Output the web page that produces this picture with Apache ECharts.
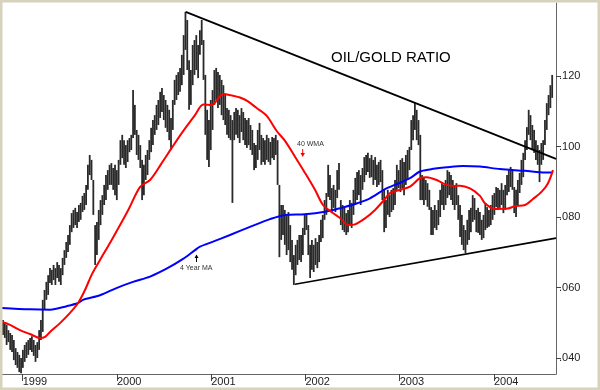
<!DOCTYPE html>
<html>
<head>
<meta charset="utf-8">
<script src="https://cdn.jsdelivr.net/npm/echarts@6/dist/echarts.min.js"></script>
<style>
html,body{margin:0;padding:0;background:#fff;}
#main{width:600px;height:390px;}
</style>
</head>
<body>
<div id="main"></div>
<script>
// ---- DATA ----
// first weekly bar (decimal year) ; one bar per week
var firstWeek = 1998.791;
var weekStep = 7 / 365.25;

var yearTicks = [1999, 2000, 2001, 2002, 2003, 2004];
var ratioTicks = [0.04, 0.06, 0.08, 0.10, 0.12];

var weeklyHigh = [
.0508,.0502,.0494,.0479,.0471,.0465,.0451,.0428,.0417,.0409,
.0400,.0423,.0437,.0445,.0451,.0457,.0462,.0451,.0437,.0445,
.0479,.0508,.0565,.0593,.0616,.0635,.0655,.0650,.0664,.0655,
.0672,.0664,.0655,.0684,.0706,.0729,.0749,.0777,.0811,.0820,
.0826,.0814,.0834,.0840,.0860,.0868,.0891,.0948,.0976,.0962,
.0905,.0777,.0786,.0820,.0848,.0862,.0891,.0919,.0933,.0948,
.0953,.0939,.0948,.0933,.0962,.1018,.1033,.1018,.1004,.1018,
.1024,.1033,.1160,.1118,.1047,.1033,.1004,.0962,.0948,.0976,
.0990,.1018,.1053,.1075,.1089,.1118,.1132,.1155,.1166,.1146,
.1132,.1118,.1104,.1081,.1132,.1189,.1203,.1211,.1223,.1260,
.1316,.1382,.1359,.1245,.1217,.1288,.1302,.1316,.1288,.1330,
.1359,.1302,.1203,.1104,.1075,.1132,.1160,.1217,.1223,.1211,
.1203,.1189,.1174,.1146,.1109,.1104,.1089,.1075,.1098,.1109,
.1104,.1089,.1109,.1098,.1081,.1075,.1081,.1061,.1047,.1010,
.1004,.1047,.1067,.1033,.1024,.1018,.1033,.1024,.1013,.1027,
.1024,.1033,.1018,.0891,.0834,.0834,.0820,.0806,.0814,.0777,
.0735,.0692,.0721,.0735,.0749,.0749,.0769,.0806,.0811,.0777,
.0721,.0735,.0721,.0740,.0729,.0749,.0792,.0806,.0848,.0868,
.0948,.0919,.0882,.0891,.0877,.0933,.0953,.0848,.0834,.0826,
.0811,.0820,.0848,.0840,.0877,.0911,.0928,.0933,.0919,.0939,
.0970,.0976,.0982,.0967,.0976,.0962,.0970,.0948,.0956,.0962,
.0933,.0877,.0848,.0877,.0862,.0877,.0882,.0905,.0948,.0933,
.0962,.0967,.0956,.0976,.0990,.0999,.1075,.1089,.1123,.1104,
.1075,.1033,.0919,.0911,.0905,.0896,.0877,.0828,.0820,.0834,
.0820,.0848,.0877,.0896,.0891,.0905,.0933,.0928,.0919,.0905,
.0891,.0896,.0862,.0834,.0806,.0777,.0763,.0792,.0820,.0826,
.0862,.0854,.0820,.0826,.0814,.0792,.0806,.0840,.0828,.0820,
.0834,.0862,.0868,.0885,.0882,.0877,.0896,.0877,.0891,.0919,
.0933,.0942,.0933,.0885,.0877,.0905,.0925,.0962,.0982,.1018,
.1055,.1104,.1089,.1061,.1047,.1018,.1004,.0990,.1010,.1018,
.1075,.1123,.1146,.1174,.1203
];

var weeklyLow = [
.0465,.0457,.0437,.0445,.0423,.0417,.0394,.0380,.0372,.0360,
.0357,.0372,.0389,.0400,.0409,.0423,.0417,.0406,.0389,.0400,
.0423,.0451,.0474,.0536,.0565,.0579,.0613,.0607,.0621,.0607,
.0627,.0616,.0607,.0635,.0664,.0684,.0701,.0721,.0757,.0769,
.0777,.0769,.0786,.0792,.0814,.0820,.0834,.0877,.0919,.0905,
.0806,.0664,.0692,.0735,.0777,.0806,.0834,.0848,.0877,.0891,
.0891,.0877,.0862,.0848,.0891,.0948,.0967,.0948,.0939,.0956,
.0984,.0990,.1024,.1033,.0976,.0962,.0939,.0848,.0862,.0905,
.0919,.0962,.0984,.1004,.1033,.1047,.1061,.1081,.1098,.1075,
.1053,.1041,.1018,.0990,.1047,.1118,.1132,.1146,.1155,.1174,
.1203,.1274,.1217,.1104,.1118,.1174,.1203,.1217,.1194,.1260,
.1288,.1189,.1033,.0962,.0942,.0990,.1047,.1118,.1132,.1109,
.1118,.1089,.1075,.1061,.1033,.1024,.1018,.0840,.1018,.1033,
.1024,.1010,.1041,.1018,.1004,.0996,.1004,.0990,.0976,.0933,
.0939,.0962,.0990,.0948,.0956,.0948,.0962,.0956,.0948,.0967,
.0962,.0976,.0891,.0686,.0735,.0749,.0721,.0692,.0706,.0672,
.0650,.0607,.0635,.0664,.0678,.0672,.0692,.0749,.0763,.0692,
.0627,.0650,.0644,.0664,.0655,.0672,.0729,.0740,.0792,.0806,
.0857,.0848,.0811,.0826,.0814,.0854,.0877,.0777,.0763,.0757,
.0749,.0757,.0777,.0769,.0806,.0834,.0848,.0862,.0834,.0877,
.0899,.0919,.0928,.0911,.0913,.0891,.0905,.0885,.0891,.0899,
.0848,.0757,.0769,.0806,.0800,.0814,.0820,.0834,.0877,.0882,
.0871,.0882,.0862,.0891,.0905,.0933,.0990,.1018,.1047,.1018,
.1004,.0848,.0848,.0834,.0848,.0829,.0820,.0749,.0749,.0769,
.0763,.0777,.0800,.0834,.0820,.0834,.0854,.0862,.0848,.0834,
.0820,.0834,.0792,.0743,.0721,.0706,.0698,.0721,.0735,.0757,
.0786,.0792,.0757,.0755,.0749,.0735,.0740,.0763,.0769,.0772,
.0777,.0792,.0806,.0828,.0820,.0826,.0834,.0811,.0820,.0862,
.0871,.0885,.0877,.0811,.0800,.0834,.0868,.0891,.0913,.0962,
.0990,.1033,.1018,.0990,.0982,.0962,.0948,.0899,.0948,.0962,
.1004,.1047,.1089,.1109,.1138
];

// 40-week moving average [decimal year, ratio]
var ma40 = [
[1998.780,.0502],[1998.865,.0494],[1998.971,.0479],[1999.077,.0468],[1999.184,.0457],
[1999.237,.0460],[1999.290,.0474],[1999.396,.0499],[1999.502,.0528],[1999.587,.0556],
[1999.661,.0593],[1999.735,.0638],[1999.820,.0678],[1999.944,.0735],[2000.120,.0820],
[2000.244,.0885],[2000.351,.0905],[2000.475,.0953],[2000.581,.0996],[2000.687,.1038],
[2000.828,.1089],[2000.916,.1119],[2001.005,.1118],[2001.128,.1149],[2001.217,.1145],
[2001.305,.1139],[2001.390,.1128],[2001.482,.1109],[2001.589,.1087],[2001.695,.1044],
[2001.783,.1016],[2001.889,.0971],[2001.995,.0925],[2002.101,.0877],[2002.186,.0834],
[2002.278,.0814],[2002.366,.0797],[2002.454,.0777],[2002.525,.0779],[2002.631,.0796],
[2002.738,.0820],[2002.843,.0851],[2002.896,.0868],[2003.002,.0877],[2003.108,.0886],
[2003.214,.0910],[2003.286,.0913],[2003.392,.0905],[2003.498,.0891],[2003.586,.0888],
[2003.639,.0889],[2003.745,.0881],[2003.851,.0860],[2003.904,.0839],[2004.010,.0823],
[2004.148,.0824],[2004.222,.0831],[2004.329,.0834],[2004.413,.0851],[2004.506,.0872],
[2004.573,.0896],[2004.626,.0933]
];

// 4-year moving average [decimal year, ratio]
var ma4y = [
[1998.780,.0542],[1999.077,.0538],[1999.290,.0537],[1999.467,.0547],[1999.587,.0556],
[1999.640,.0565],[1999.820,.0578],[2000.000,.0599],[2000.170,.0616],[2000.351,.0631],
[2000.531,.0654],[2000.701,.0681],[2000.828,.0706],[2000.881,.0716],[2001.019,.0730],
[2001.199,.0749],[2001.411,.0772],[2001.623,.0794],[2001.783,.0806],[2001.995,.0808],
[2002.207,.0815],[2002.366,.0825],[2002.525,.0837],[2002.684,.0853],[2002.843,.0879],
[2002.949,.0891],[2003.108,.0910],[2003.214,.0929],[2003.320,.0935],[2003.498,.0941],
[2003.671,.0945],[2003.851,.0943],[2004.063,.0936],[2004.329,.0931],[2004.541,.0926],
[2004.626,.0926]
];

// trend lines
var upperTrend = [[2000.729, 0.1382], [2004.658, 0.0965]];
var lowerTrend = [[2001.889, 0.0609], [2004.658, 0.0740]];

// ---- CHART ----
var bars = weeklyHigh.map(function (h, i) {
  return [firstWeek + i * weekStep, weeklyLow[i], h];
});

var chart = echarts.init(document.getElementById('main'), null, {renderer: 'canvas'});
var FONT = '"Liberation Sans", Arial, sans-serif';

chart.setOption({
  animation: false,
  backgroundColor: '#ffffff',
  grid: {left: 2, top: 3, right: 44, bottom: 16, containLabel: false},
  xAxis: {
    type: 'value', min: 1998.7804, max: 2004.6577,
    splitLine: {show: false},
    axisLine: {show: true, onZero: false, lineStyle: {color: '#666', width: 1}},
    axisTick: {show: true, customValues: yearTicks, length: 7, lineStyle: {color: '#444'}},
    axisLabel: {show: true, customValues: yearTicks, align: 'left', margin: 2,
      color: '#222', fontSize: 11, fontFamily: FONT,
      formatter: function (v) { return String(Math.round(v)); }}
  },
  yAxis: {
    type: 'value', position: 'right', min: 0.03546, max: 0.14071,
    splitLine: {show: false},
    axisLine: {show: true, onZero: false, lineStyle: {color: '#666', width: 1}},
    axisTick: {show: true, customValues: ratioTicks, length: 5, lineStyle: {color: '#444'}},
    axisLabel: {show: true, customValues: ratioTicks, margin: 3,
      color: '#222', fontSize: 11, fontFamily: FONT,
      formatter: function (v) { return '.' + String(Math.round(v * 1000)).padStart(3, '0'); }}
  },
  series: [
    {
      type: 'custom',
      data: bars,
      encode: {x: 0, y: [1, 2]},
      z: 2,
      renderItem: function (params, api) {
        var hi = api.coord([api.value(0), api.value(2)]);
        var lo = api.coord([api.value(0), api.value(1)]);
        return {
          type: 'line',
          shape: {x1: hi[0], y1: hi[1], x2: lo[0], y2: lo[1]},
          style: {stroke: '#2a2a2a', lineWidth: 1.8}
        };
      }
    },
    {type: 'line', data: ma4y, symbol: 'none', smooth: 0.3, z: 3,
      lineStyle: {color: '#0000ff', width: 2}},
    {type: 'line', data: ma40, symbol: 'none', smooth: 0.3, z: 4,
      lineStyle: {color: '#ff0000', width: 2}},
    {type: 'line', data: upperTrend, symbol: 'none', z: 5,
      lineStyle: {color: '#000', width: 1.8}},
    {type: 'line', data: lowerTrend, symbol: 'none', z: 5,
      lineStyle: {color: '#000', width: 1.6}}
  ],
  graphic: [
    {type: 'rect', silent: true, z: 100,
      shape: {x: 0, y: 0, width: 600, height: 390},
      style: {fill: null, stroke: '#d6d2bb', lineWidth: 5}},
    {type: 'text', left: 331, top: 50, z: 50,
      style: {text: 'OIL/GOLD RATIO', font: '15px ' + FONT, fill: '#000'}},
    {type: 'text', left: 297, top: 141, z: 50,
      style: {text: '40 WMA', font: '7px ' + FONT, fill: '#333'}},
    {type: 'line', z: 50, shape: {x1: 302.7, y1: 149, x2: 302.7, y2: 154},
      style: {stroke: '#ff0000', lineWidth: 1}},
    {type: 'polygon', z: 50, shape: {points: [[300.5, 153], [305, 153], [302.7, 157]]},
      style: {fill: '#ff0000'}},
    {type: 'text', left: 180, top: 265, z: 50,
      style: {text: '4 Year MA', font: '7px ' + FONT, fill: '#333'}},
    {type: 'line', z: 50, shape: {x1: 196.5, y1: 257, x2: 196.5, y2: 262},
      style: {stroke: '#000', lineWidth: 1}},
    {type: 'polygon', z: 50, shape: {points: [[194.5, 258], [198.5, 258], [196.5, 254.5]]},
      style: {fill: '#000'}}
  ]
});
</script>
</body>
</html>
